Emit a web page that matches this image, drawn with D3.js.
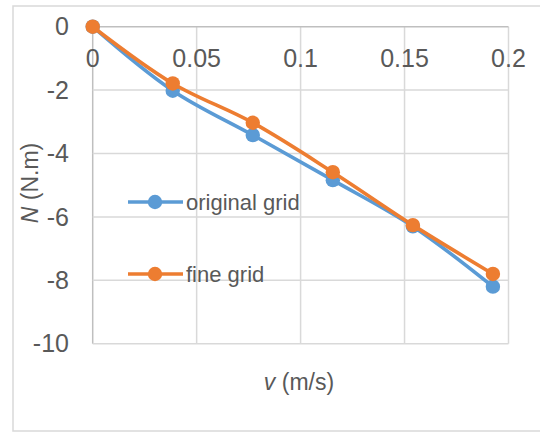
<!DOCTYPE html>
<html>
<head>
<meta charset="utf-8">
<script src="https://cdn.jsdelivr.net/npm/d3@7"></script>
<style>
  body { margin: 0; background: #fff; }
  text { font-family: "Liberation Sans", Arial, sans-serif; fill: #595959; }
</style>
</head>
<body>
<div id="svgContainer"></div>
<script>
const velocity = [0, 0.0385, 0.077, 0.1155, 0.154, 0.1925];
const originalGrid = [0, -2.02, -3.42, -4.84, -6.3, -8.2];
const fineGrid = [0, -1.79, -3.03, -4.59, -6.26, -7.8];
const seriesNames = ["original grid", "fine grid"];
const xTicks = [0, 0.05, 0.1, 0.15, 0.2];
const yTicks = [0, -2, -4, -6, -8, -10];

const width = 540;
const height = 432;
const colors = ["#5b9bd5", "#ed7d31"];

const svg = d3.select("#svgContainer")
  .append("svg")
  .attr("width", width)
  .attr("height", height);

// outer chart frame
svg.append("rect")
  .attr("x", 13).attr("y", 6)
  .attr("width", 540).attr("height", 425)
  .attr("fill", "none")
  .attr("stroke", "#d9d9d9")
  .attr("stroke-width", 1.5);

const x = d3.scaleLinear().domain([0, 0.2]).range([92.7, 508.5]);
const y = d3.scaleLinear().domain([-10, 0]).range([343.7, 26.7]);

// gridlines
svg.append("g").selectAll("line").data(xTicks).join("line")
  .attr("x1", d => x(d)).attr("x2", d => x(d))
  .attr("y1", y(0)).attr("y2", y(-10))
  .attr("stroke", d => d === 0 ? "#bfbfbf" : "#d9d9d9")
  .attr("stroke-width", 1.5);

svg.append("g").selectAll("line").data(yTicks).join("line")
  .attr("x1", x(0)).attr("x2", x(0.2))
  .attr("y1", d => y(d)).attr("y2", d => y(d))
  .attr("stroke", d => d === 0 ? "#bfbfbf" : "#d9d9d9")
  .attr("stroke-width", 1.5);

// tick labels
svg.append("g").selectAll("text").data(xTicks).join("text")
  .attr("x", d => x(d))
  .attr("y", 67)
  .attr("text-anchor", "middle")
  .attr("font-size", 25)
  .text(d => d3.format("")(d));

svg.append("g").selectAll("text").data(yTicks).join("text")
  .attr("x", 69)
  .attr("y", d => y(d))
  .attr("dy", "0.35em")
  .attr("text-anchor", "end")
  .attr("font-size", 25)
  .text(d => d);

// axis titles
const xTitle = svg.append("text")
  .attr("x", 299).attr("y", 390)
  .attr("text-anchor", "middle")
  .attr("font-size", 23);
xTitle.append("tspan").attr("font-style", "italic").text("v");
xTitle.append("tspan").text(" (m/s)");

const yTitle = svg.append("text")
  .attr("transform", "translate(38,183) rotate(-90)")
  .attr("text-anchor", "middle")
  .attr("font-size", 23);
yTitle.append("tspan").attr("font-style", "italic").text("N");
yTitle.append("tspan").text(" (N.m)");

// series
const series = [originalGrid, fineGrid];
const line = d3.line()
  .x((d, i) => x(velocity[i]))
  .y(d => y(d))
  .curve(d3.curveCatmullRom.alpha(0.5));

series.forEach((values, k) => {
  const g = svg.append("g");
  g.append("path")
    .attr("d", line(values))
    .attr("fill", "none")
    .attr("stroke", colors[k])
    .attr("stroke-width", 3.6)
    .attr("stroke-linejoin", "round");
  g.selectAll("circle").data(values).join("circle")
    .attr("cx", (d, i) => x(velocity[i]))
    .attr("cy", d => y(d))
    .attr("r", 7.2)
    .attr("fill", colors[k]);
});

// legend
const legendY = [202, 274];
seriesNames.forEach((name, k) => {
  const g = svg.append("g");
  g.append("line")
    .attr("x1", 128).attr("x2", 183)
    .attr("y1", legendY[k]).attr("y2", legendY[k])
    .attr("stroke", colors[k])
    .attr("stroke-width", 3.6);
  g.append("circle")
    .attr("cx", 155).attr("cy", legendY[k])
    .attr("r", 7.2)
    .attr("fill", colors[k]);
  g.append("text")
    .attr("x", 186).attr("y", legendY[k])
    .attr("dy", "0.35em")
    .attr("font-size", 22)
    .text(name);
});
</script>
</body>
</html>
